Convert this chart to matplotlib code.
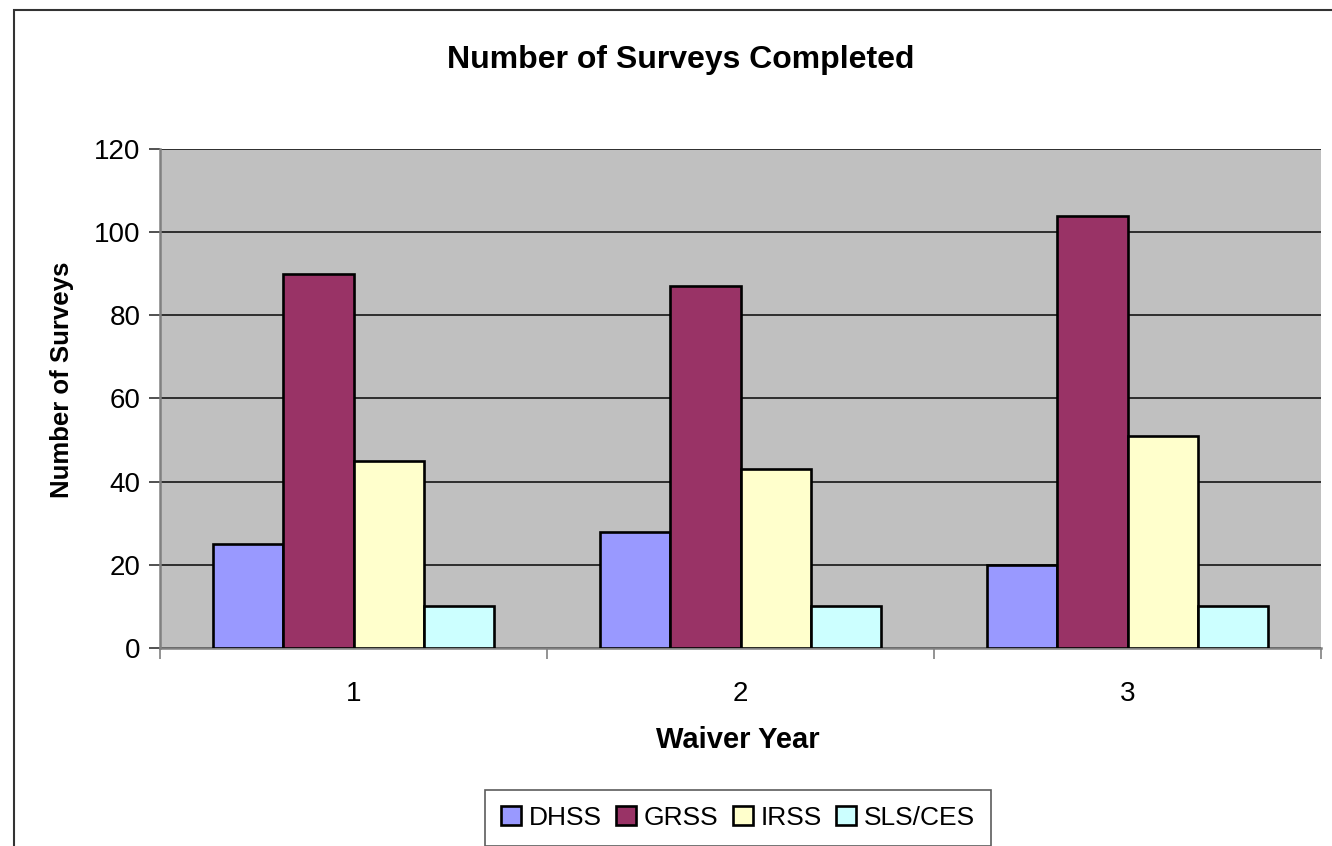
import matplotlib
matplotlib.use("Agg")
import matplotlib.pyplot as plt
import numpy as np
from matplotlib.patches import Rectangle

plt.rcParams['font.family'] = ['Liberation Sans', 'DejaVu Sans']

categories = ["1", "2", "3"]
series_names = ["DHSS", "GRSS", "IRSS", "SLS/CES"]
dhss = [25, 28, 20]
grss = [90, 87, 104]
irss = [45, 43, 51]
sls_ces = [10, 10, 10]
colors = ["#9999FF", "#993366", "#FFFFCC", "#CCFFFF"]
yticks = [0, 20, 40, 60, 80, 100, 120]

W, H = 1332, 846
fig = plt.figure(figsize=(W / 100, H / 100), dpi=100)
fig.patch.set_facecolor("white")

# outer chart border (only left and top visible in reference)
fig.add_artist(Rectangle((14 / W, -0.1), 1.2, (1 - 10 / H) + 0.1, transform=fig.transFigure,
                         fill=False, edgecolor="#333333", linewidth=1.5))

left, right, top, bottom = 160, 1321, 149, 648
ax = fig.add_axes([left / W, 1 - bottom / H, (right - left) / W, (bottom - top) / H])
ax.set_facecolor("#C0C0C0")

x = np.arange(len(categories))
bw = 0.182
data = [dhss, grss, irss, sls_ces]
for i, (name, vals, c) in enumerate(zip(series_names, data, colors)):
    ax.bar(x + (i - 1.5) * bw, vals, width=bw, color=c, edgecolor="black",
           linewidth=1.9, label=name, zorder=3)

ax.set_xlim(-0.5, len(categories) - 0.5)
ax.set_ylim(0, 120)
ax.set_yticks(yticks)
ax.set_yticklabels([str(t) for t in yticks], fontsize=20)
ax.yaxis.grid(True, color="#222222", linewidth=1.3, zorder=1)
ax.set_axisbelow(True)

ax.set_xticks(x)
ax.set_xticklabels(categories, fontsize=20)
ax.tick_params(axis="x", length=0, pad=24)
ax.set_xticks(np.arange(len(categories) + 1) - 0.5, minor=True)
ax.tick_params(axis="x", which="minor", length=8, width=1.2, color="#808080", direction="out")
ax.tick_params(axis="y", length=8, width=1.2, color="#333333", direction="out", pad=6)

for s in ["top", "right"]:
    ax.spines[s].set_visible(False)
for s in ["left", "bottom"]:
    ax.spines[s].set_color("#808080")
    ax.spines[s].set_linewidth(1.8)

fig.text(681 / W, 1 - 60 / H, "Number of Surveys Completed", ha="center", va="center",
         fontsize=23, fontweight="bold")
fig.text(738 / W, 1 - 740 / H, "Waiver Year", ha="center", va="center",
         fontsize=21, fontweight="bold")
fig.text(62 / W, 1 - 380 / H, "Number of Surveys", ha="center", va="center",
         rotation=90, fontsize=18.5, fontweight="bold")

leg = fig.legend(loc="center", bbox_to_anchor=(738 / W, 1 - 818 / H), ncol=4,
                 fontsize=19, frameon=True, fancybox=False, edgecolor="#333333",
                 handlelength=0.75, handleheight=0.75, handletextpad=0.3, columnspacing=0.55,
                 borderpad=0.6)
leg.get_frame().set_linewidth(1.2)

fig.savefig("out.png", dpi=100)
